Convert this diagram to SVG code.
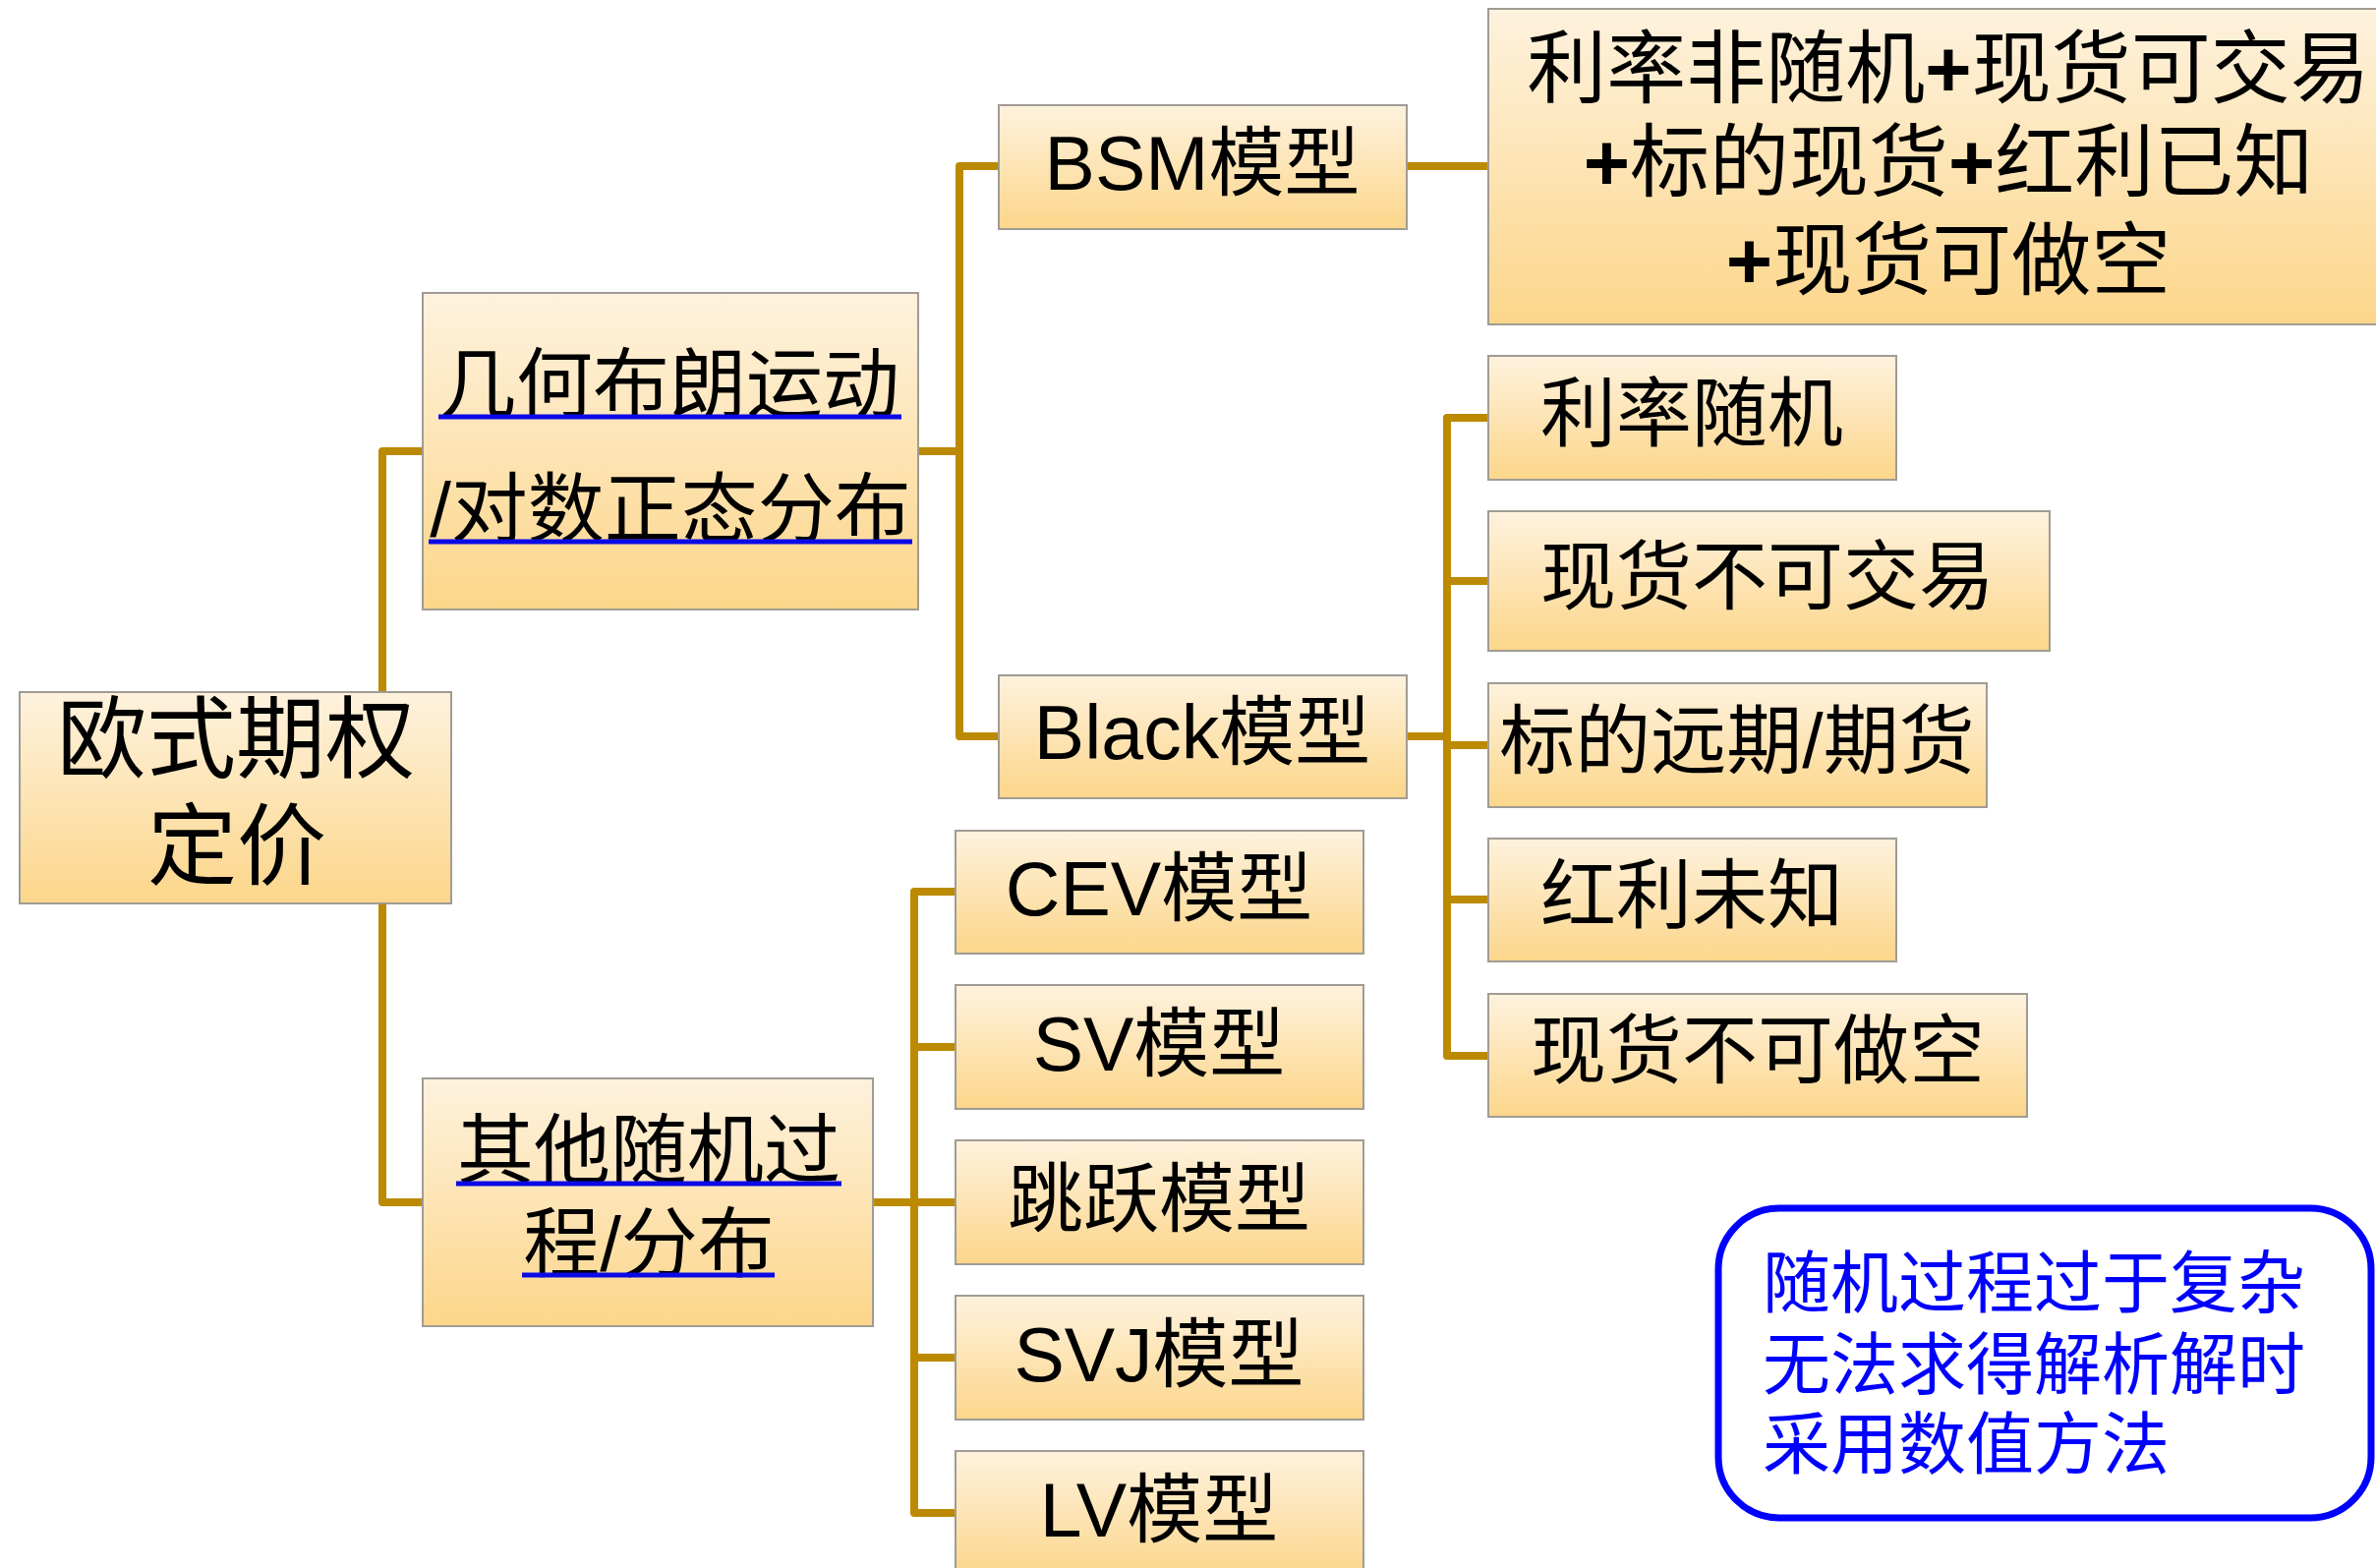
<svg xmlns="http://www.w3.org/2000/svg" width="2417" height="1595" viewBox="0 0 2417 1595">
<defs>
<linearGradient id="g" x1="0" y1="0" x2="0" y2="1">
<stop offset="0" stop-color="#FEF2DE"/>
<stop offset="1" stop-color="#FCD68A"/>
</linearGradient>
</defs>
<style>
.box{fill:url(#g);stroke:#A09C94;stroke-width:2}
.c{fill:none;stroke:#BB8A00;stroke-width:8;stroke-linejoin:round}
.t{font-family:"Liberation Sans","Noto Sans CJK SC",sans-serif;font-size:77px;text-anchor:middle;fill:#000}
.u{stroke:#0A0AE6;stroke-width:5}
.note{fill:none;stroke:#0000FF;stroke-width:7}
.nt{font-family:"Liberation Sans","Noto Sans CJK SC",sans-serif;font-size:69px;fill:#0000FF}
</style>
<rect width="2417" height="1595" fill="#FFFFFF"/>
<g id="connectors">
<path class="c" d="M430,459 H389 V1223 H430"/>
<path class="c" d="M934,459 H976"/>
<path class="c" d="M1016,169 H976 V749 H1016"/>
<path class="c" d="M1431,169 H1514"/>
<path class="c" d="M1431,749 H1472"/>
<path class="c" d="M1514,425 H1472 V1074 H1514"/>
<path class="c" d="M1472,591 H1514 M1472,758 H1514 M1472,915 H1514"/>
<path class="c" d="M888,1223 H930"/>
<path class="c" d="M972,907 H930 V1539 H972"/>
<path class="c" d="M930,1065 H972 M930,1223 H972 M930,1381 H972"/>
</g>
<g id="root">
<rect class="box" x="20" y="704" width="439" height="215"/>
<text class="t" style="font-size:91px" x="240" y="784">欧式期权</text>
<text class="t" style="font-size:91px" x="241" y="893">定价</text>
</g>
<g id="geo">
<rect class="box" x="430" y="298" width="504" height="322"/>
<text class="t" style="font-size:78px" x="681" y="419">几何布朗运动</text>
<text class="t" style="font-size:78px" x="682" y="546">/对数正态分布</text>
<line class="u" x1="446" y1="424" x2="917" y2="424"/>
<line class="u" x1="436" y1="551" x2="928" y2="551"/>
</g>
<g id="other">
<rect class="box" x="430" y="1097" width="458" height="252"/>
<text class="t" style="font-size:78px" x="660" y="1198">其他随机过</text>
<text class="t" style="font-size:78px" x="660" y="1293">程/分布</text>
<line class="u" x1="464" y1="1204" x2="856" y2="1204"/>
<line class="u" x1="531" y1="1297" x2="788" y2="1297"/>
</g>
<g id="bsm">
<rect class="box" x="1016" y="107" width="415" height="126"/>
<text class="t" x="1223" y="193">BSM模型</text>
</g>
<g id="black">
<rect class="box" x="1016" y="687" width="415" height="125"/>
<text class="t" x="1223" y="772">Black模型</text>
</g>
<g id="bsm-assumptions">
<rect class="box" x="1514" y="9" width="940" height="321"/>
<text class="t" style="font-size:81px" x="1982" y="98">利率非随机<tspan font-weight="bold">+</tspan>现货可交易</text>
<text class="t" style="font-size:81px" x="1982" y="193"><tspan font-weight="bold">+</tspan>标的现货<tspan font-weight="bold">+</tspan>红利已知</text>
<text class="t" style="font-size:81px" x="1982" y="293"><tspan font-weight="bold">+</tspan>现货可做空</text>
</g>
<g id="r1">
<rect class="box" x="1514" y="362" width="415" height="126"/>
<text class="t" x="1721" y="448">利率随机</text>
</g>
<g id="r2">
<rect class="box" x="1514" y="520" width="571" height="142"/>
<text class="t" x="1798" y="614">现货不可交易</text>
</g>
<g id="r3">
<rect class="box" x="1514" y="695" width="507" height="126"/>
<text class="t" x="1767" y="781">标的远期/期货</text>
</g>
<g id="r4">
<rect class="box" x="1514" y="853" width="415" height="125"/>
<text class="t" x="1721" y="938">红利未知</text>
</g>
<g id="r5">
<rect class="box" x="1514" y="1011" width="548" height="125"/>
<text class="t" x="1788" y="1096">现货不可做空</text>
</g>
<g id="cev">
<rect class="box" x="972" y="845" width="415" height="125"/>
<text class="t" x="1179" y="931">CEV模型</text>
</g>
<g id="sv">
<rect class="box" x="972" y="1002" width="415" height="126"/>
<text class="t" x="1179" y="1089">SV模型</text>
</g>
<g id="jump">
<rect class="box" x="972" y="1160" width="415" height="126"/>
<text class="t" x="1179" y="1247">跳跃模型</text>
</g>
<g id="svj">
<rect class="box" x="972" y="1318" width="415" height="126"/>
<text class="t" x="1179" y="1405">SVJ模型</text>
</g>
<g id="lv">
<rect class="box" x="972" y="1476" width="415" height="130"/>
<text class="t" x="1179" y="1563">LV模型</text>
</g>
<g id="note">
<rect class="note" x="1748" y="1229" width="664" height="315" rx="62" ry="62"/>
<text class="nt" x="1793" y="1330">随机过程过于复杂</text>
<text class="nt" x="1793" y="1413">无法求得解析解时</text>
<text class="nt" x="1793" y="1494">采用数值方法</text>
</g>
</svg>
